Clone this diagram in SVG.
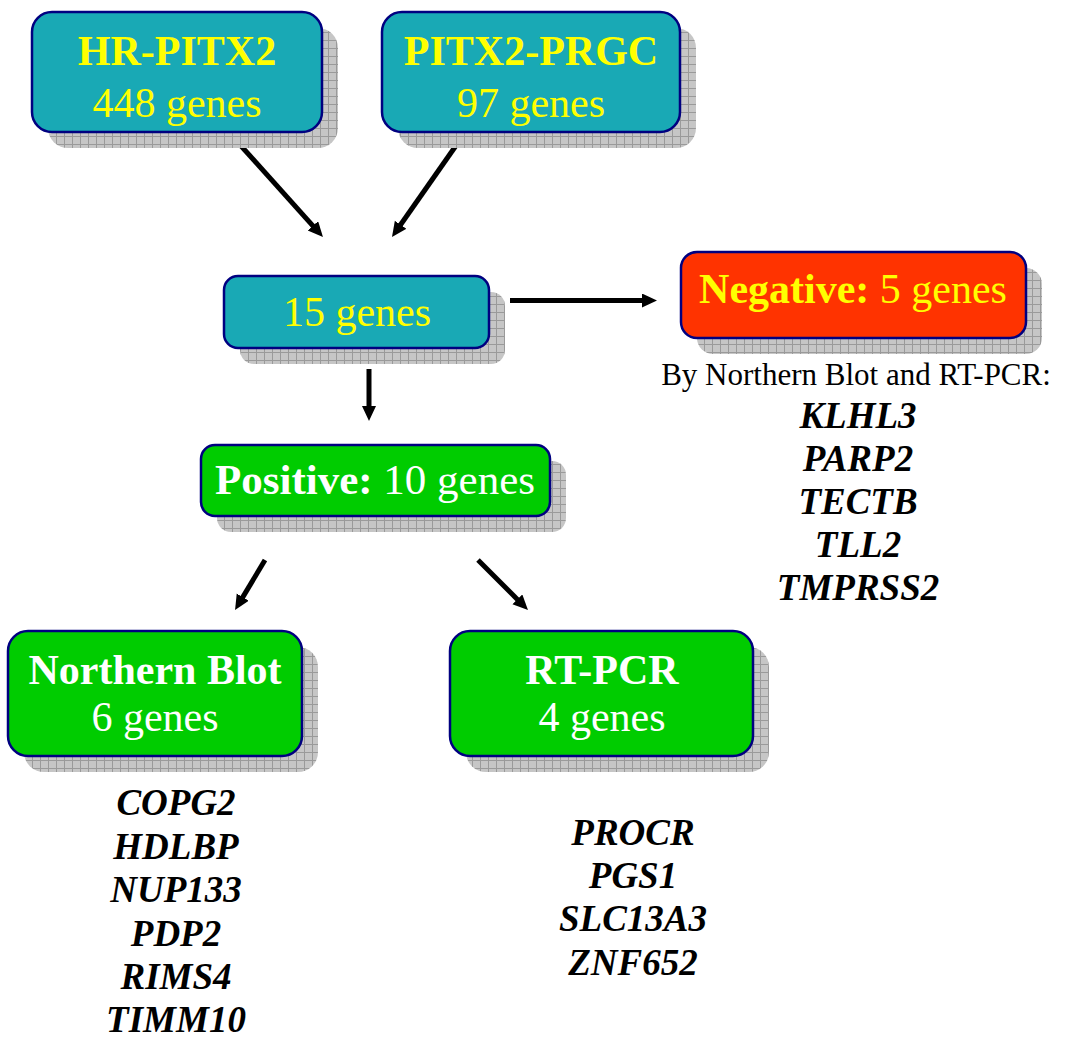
<svg xmlns="http://www.w3.org/2000/svg" width="1070" height="1038" viewBox="0 0 1070 1038">
<defs>
<pattern id="grid" width="8" height="8" patternUnits="userSpaceOnUse">
<rect width="8" height="8" fill="#c6c6c6"/>
<path d="M0,0.5 H8 M0.5,0 V8" stroke="#9a9a9a" stroke-width="1" fill="none"/>
</pattern>
<marker id="ah" markerUnits="userSpaceOnUse" markerWidth="18" markerHeight="16" refX="4" refY="7" orient="auto">
<path d="M0,0 L15,7 L0,14 z" fill="#000"/>
</marker>
<style>
.shadow{fill:url(#grid);}
.box{stroke:#000080;stroke-width:2.5;}
.teal{fill:#19a9b5;}
.red{fill:#ff3300;}
.green{fill:#00cc00;}
.t{font-family:"Liberation Serif","Times New Roman",serif;font-size:42px;text-anchor:middle;}
.b{font-weight:bold;}
.y{fill:#ffff00;}
.w{fill:#ffffff;}
.gene{font-family:"Liberation Serif","Times New Roman",serif;font-size:37px;font-weight:bold;font-style:italic;text-anchor:middle;fill:#000;}
.note{font-family:"Liberation Serif","Times New Roman",serif;font-size:31px;text-anchor:middle;fill:#000;}
.conn{stroke:#000;stroke-width:5;fill:none;marker-end:url(#ah);}
</style>
</defs>
<rect width="1070" height="1038" fill="#ffffff"/>

<g id="connectors">
<line class="conn" x1="233" y1="137" x2="315.6" y2="228.8"/>
<line class="conn" x1="462" y1="137" x2="398.3" y2="228"/>
<line class="conn" x1="510" y1="300.5" x2="646" y2="300.5"/>
<line class="conn" x1="369" y1="369" x2="369" y2="410"/>
<line class="conn" x1="265" y1="560" x2="240.7" y2="600.6"/>
<line class="conn" x1="478" y1="560" x2="520.2" y2="602.2"/>
</g>

<g id="hr-pitx2">
<rect class="shadow" x="48" y="28" width="290" height="120" rx="20"/>
<rect class="box teal" x="32" y="12" width="290" height="120" rx="20"/>
<text class="t b y" x="177" y="65">HR-PITX2</text>
<text class="t y" x="177" y="117">448 genes</text>
</g>

<g id="pitx2-prgc">
<rect class="shadow" x="398" y="28" width="298" height="120" rx="20"/>
<rect class="box teal" x="382" y="12" width="298" height="120" rx="20"/>
<text class="t b y" x="531" y="65">PITX2-PRGC</text>
<text class="t y" x="531" y="117">97 genes</text>
</g>

<g id="genes15">
<rect class="shadow" x="240" y="292" width="265" height="72" rx="14"/>
<rect class="box teal" x="224" y="276" width="265" height="72" rx="14"/>
<text class="t y" x="357" y="326">15 genes</text>
</g>

<g id="negative">
<rect class="shadow" x="697" y="268" width="345" height="86" rx="16"/>
<rect class="box red" x="681" y="252" width="345" height="86" rx="16"/>
<text class="t y" x="853" y="303"><tspan class="b">Negative:</tspan> 5 genes</text>
</g>

<g id="negative-list">
<text class="note" x="856" y="385">By Northern Blot and RT-PCR:</text>
<text class="gene" x="858" y="428">KLHL3</text>
<text class="gene" x="858" y="471">PARP2</text>
<text class="gene" x="858" y="514">TECTB</text>
<text class="gene" x="858" y="557">TLL2</text>
<text class="gene" x="858" y="600">TMPRSS2</text>
</g>

<g id="positive">
<rect class="shadow" x="217" y="461" width="349" height="71" rx="14"/>
<rect class="box green" x="201" y="445" width="349" height="71" rx="14"/>
<text class="t w" x="375" y="494" style="font-size:43px"><tspan class="b">Positive:</tspan> 10 genes</text>
</g>

<g id="northern-blot">
<rect class="shadow" x="24" y="647" width="294" height="125" rx="20"/>
<rect class="box green" x="8" y="631" width="294" height="125" rx="20"/>
<text class="t b w" x="155" y="684">Northern Blot</text>
<text class="t w" x="155" y="731">6 genes</text>
</g>

<g id="northern-list">
<text class="gene" x="176" y="815">COPG2</text>
<text class="gene" x="176" y="858.5">HDLBP</text>
<text class="gene" x="176" y="902">NUP133</text>
<text class="gene" x="176" y="945.5">PDP2</text>
<text class="gene" x="176" y="989">RIMS4</text>
<text class="gene" x="176" y="1032">TIMM10</text>
</g>

<g id="rt-pcr">
<rect class="shadow" x="466" y="647" width="303" height="125" rx="20"/>
<rect class="box green" x="450" y="631" width="303" height="125" rx="20"/>
<text class="t b w" x="602" y="684">RT-PCR</text>
<text class="t w" x="602" y="731">4 genes</text>
</g>

<g id="rt-pcr-list">
<text class="gene" x="633" y="845">PROCR</text>
<text class="gene" x="633" y="888">PGS1</text>
<text class="gene" x="633" y="931">SLC13A3</text>
<text class="gene" x="633" y="975">ZNF652</text>
</g>
</svg>
